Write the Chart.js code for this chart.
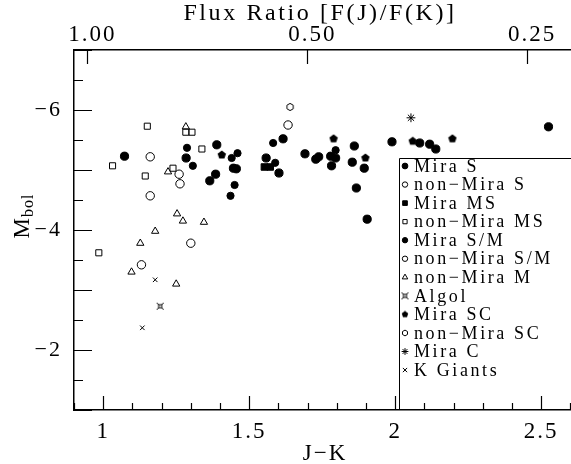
<!DOCTYPE html>
<html>
<head>
<meta charset="utf-8">
<script src="https://cdn.jsdelivr.net/npm/chart.js@4.4.1/dist/chart.umd.min.js"></script>
<style>
html, body { margin: 0; padding: 0; background: #fff; overflow: hidden; }
canvas { display: block; }
</style>
</head>
<body>
<canvas id="chart" width="576" height="464"></canvas>
<script>
// J-K colour and bolometric magnitude, one pair per class
const miraS_jk = [1.073, 1.284, 1.389, 1.446, 1.456, 1.385, 1.365, 1.558, 1.616, 1.602, 1.691, 1.728, 1.738, 1.779, 1.796, 1.782, 1.860, 1.853, 1.894, 1.867, 1.904, 1.989, 2.084, 2.118, 2.139, 2.525];
const miraS_m = [-5.23, -5.20, -5.42, -5.03, -5.02, -4.93, -4.82, -5.20, -5.52, -4.95, -5.27, -5.18, -5.22, -5.23, -5.20, -5.07, -5.40, -5.13, -5.03, -4.70, -4.18, -5.47, -5.45, -5.43, -5.35, -5.72];

const nonMiraS_jk = [1.161, 1.161, 1.633, 1.131];
const nonMiraS_m = [-5.22, -4.57, -5.75, -3.42];

const miraMS_jk = [1.552, 1.572];
const miraMS_m = [-5.05, -5.05];

const nonMiraMS_jk = [1.151, 1.032, 1.144, 1.239, 1.283, 1.304, 1.338, 0.985];
const nonMiraMS_m = [-5.73, -5.07, -4.90, -5.03, -5.63, -5.63, -5.35, -3.62];

const miraSM_jk = [1.287, 1.307, 1.440, 1.460, 1.450, 1.436, 1.582, 1.589, 1.796];
const miraSM_m = [-5.37, -5.07, -5.20, -5.28, -4.75, -4.57, -5.45, -5.12, -5.33];

const nonMiraSM_jk = [1.260, 1.263, 1.300];
const nonMiraSM_m = [-4.93, -4.77, -3.78];

const nonMiraM_jk = [1.283, 1.222, 1.253, 1.273, 1.345, 1.178, 1.127, 1.097, 1.250];
const nonMiraM_m = [-5.72, -4.97, -4.27, -4.15, -4.13, -3.98, -3.78, -3.30, -3.10];

const algol_jk = [1.195];
const algol_m = [-2.73];

const miraSC_jk = [1.406, 1.789, 1.898, 2.060, 2.196];
const miraSC_m = [-5.25, -5.52, -5.20, -5.48, -5.52];

const nonMiraSC_jk = [1.640];
const nonMiraSC_m = [-6.05];

const miraC_jk = [2.054];
const miraC_m = [-5.87];

const kGiants_jk = [1.178, 1.134];
const kGiants_m = [-3.17, -2.37];

// axis ticks
const xLabels = [1, 1.5, 2, 2.5];
const yLabels = [-6, -4, -2];
const fluxLabels = ['1.00', '0.50', '0.25'];
const fluxTickJK = [0.946, 1.699, 2.452];

const FONT = 'Liberation Serif';

const pts = (xs, ys) => xs.map((x, i) => ({ x: x, y: ys[i] }));

// little canvases for the symbols Chart.js has no built-in style for
function makeSymbol(size, draw) {
  const c = document.createElement('canvas');
  c.width = size; c.height = size;
  const g = c.getContext('2d');
  g.translate(size / 2, size / 2);
  g.strokeStyle = '#000'; g.fillStyle = '#000'; g.lineWidth = 1;
  draw(g);
  return c;
}
function polygon(g, n, r) {
  g.beginPath();
  for (let i = 0; i < n; i++) {
    const t = -Math.PI / 2 + i * 2 * Math.PI / n;
    g.lineTo(r * Math.cos(t), r * Math.sin(t));
  }
  g.closePath();
}
const pentFilled = makeSymbol(10, g => { polygon(g, 5, 4.4); g.fill(); });
const pentSmall = makeSymbol(8, g => { polygon(g, 5, 3.4); g.fill(); });
const hexOpen = makeSymbol(10, g => { polygon(g, 6, 3.6); g.stroke(); });
const hexSmall = makeSymbol(8, g => { polygon(g, 6, 2.9); g.stroke(); });
const algolSym = makeSymbol(9, g => {
  g.strokeRect(-1.5, -1.5, 3, 3);
  g.beginPath();
  [[-1, -1], [1, -1], [1, 1], [-1, 1]].forEach(([sx, sy]) => {
    g.moveTo(sx * 1.5, sy * 1.5); g.lineTo(sx * 3.5, sy * 3.5);
  });
  g.stroke();
});

function ds(label, xs, ys, style, r, filled, legendStyle, legendR) {
  return {
    label: label,
    data: pts(xs, ys),
    pointStyle: style,
    pointRadius: r,
    pointBorderWidth: 1,
    pointBorderColor: '#000',
    pointBackgroundColor: filled ? '#000' : 'rgba(0,0,0,0)',
    legendStyle: legendStyle || style,
    legendR: legendR
  };
}

const datasets = [
  ds('Mira S', miraS_jk, miraS_m, 'circle', 4.1, true, null, 2.9),
  ds('non\u2212Mira S', nonMiraS_jk, nonMiraS_m, 'circle', 4.2, false, null, 2.7),
  ds('Mira MS', miraMS_jk, miraMS_m, 'rect', 4.6, true, null, 3.3),
  ds('non\u2212Mira MS', nonMiraMS_jk, nonMiraMS_m, 'rect', 4.3, false, null, 3),
  ds('Mira S/M', miraSM_jk, miraSM_m, 'circle', 3.6, true, null, 2.7),
  ds('non\u2212Mira S/M', nonMiraSM_jk, nonMiraSM_m, 'circle', 4.2, false, null, 2.7),
  ds('non\u2212Mira M', nonMiraM_jk, nonMiraM_m, 'triangle', 4.2, false, null, 3.2),
  ds('Algol', algol_jk, algol_m, algolSym, 4, false, algolSym, 4),
  ds('Mira SC', miraSC_jk, miraSC_m, pentFilled, 4, true, pentSmall, 3),
  ds('non\u2212Mira SC', nonMiraSC_jk, nonMiraSC_m, hexOpen, 4, false, hexSmall, 3),
  ds('Mira C', miraC_jk, miraC_m, 'star', 4.4, false, null, 3.4),
  ds('K Giants', kGiants_jk, kGiants_m, 'crossRot', 3.2, false, null, 3)
];

const spacing = {
  id: 'spacing',
  beforeDraw(chart) { chart.ctx.letterSpacing = '2px'; }
};

const frame = {
  id: 'frame',
  afterDraw(chart) {
    const { ctx, chartArea: a, scales } = chart;
    ctx.save();
    ctx.strokeStyle = '#000';
    ctx.lineWidth = 1.2;
    ctx.beginPath();
    // inward ticks on J-K axis
    for (let i = 9; i <= 26; i++) {
      const v = i / 10;
      const x = Math.round(scales.x.getPixelForValue(v)) + 0.5;
      const len = xLabels.includes(v) ? 14 : 7;
      ctx.moveTo(x, a.bottom); ctx.lineTo(x, a.bottom - len);
    }
    // inward ticks on flux ratio axis
    fluxTickJK.forEach(v => {
      const x = Math.round(scales.x2.getPixelForValue(v)) + 0.5;
      ctx.moveTo(x, a.top); ctx.lineTo(x, a.top + 14);
    });
    // inward ticks on M_bol axis
    for (let i = -14; i <= -2; i++) {
      const v = i / 2;
      const y = Math.round(scales.y.getPixelForValue(v)) + 0.5;
      const len = Number.isInteger(v) ? 18 : 9;
      ctx.moveTo(a.left, y); ctx.lineTo(a.left + len, y);
    }
    ctx.stroke();

    // legend box
    const lx = 399.5, ly = 158.5;
    ctx.lineWidth = 1;
    ctx.beginPath();
    ctx.moveTo(chart.width + 5, ly); ctx.lineTo(lx, ly); ctx.lineTo(lx, a.bottom);
    ctx.stroke();
    ctx.letterSpacing = '2.6px';
    ctx.font = '18px "' + FONT + '"';
    ctx.textAlign = 'left';
    ctx.textBaseline = 'middle';
    chart.data.datasets.forEach((d, i) => {
      const y = 166 + i * 18.55;
      ctx.fillStyle = d.pointBackgroundColor;
      ctx.strokeStyle = '#000';
      Chart.helpers.drawPoint(ctx, { pointStyle: d.legendStyle, radius: d.legendR, borderWidth: 1, rotation: 0 }, 405, y);
      ctx.fillStyle = '#000';
      ctx.fillText(d.label, 414, y + 1);
    });

    // axis titles
    ctx.letterSpacing = '2.6px';
    ctx.font = '24px "' + FONT + '"';
    ctx.textAlign = 'center';
    ctx.textBaseline = 'alphabetic';
    ctx.fillText('Flux Ratio [F(J)/F(K)]', 320, 20);
    ctx.letterSpacing = '2px';
    ctx.font = '23px "' + FONT + '"';
    ctx.fillText('J\u2212K', 325, 460);

    ctx.translate(29, 216);
    ctx.rotate(-Math.PI / 2);
    ctx.textAlign = 'left';
    ctx.letterSpacing = '1px';
    const wM = ctx.measureText('M').width;
    ctx.font = '16px "' + FONT + '"';
    const wB = ctx.measureText('bol').width;
    const x0 = -(wM + wB) / 2;
    ctx.font = '23px "' + FONT + '"';
    ctx.fillText('M', x0, 0);
    ctx.font = '16px "' + FONT + '"';
    ctx.fillText('bol', x0 + wM, 4);
    ctx.restore();
  }
};

const tickFont = { family: FONT, size: 23 };

new Chart(document.getElementById('chart'), {
  type: 'scatter',
  data: { datasets: datasets },
  options: {
    responsive: false,
    animation: false,
    layout: { padding: { left: 0, right: 1, top: 0, bottom: 0 } },
    plugins: { legend: { display: false }, tooltip: { enabled: false } },
    scales: {
      x: {
        type: 'linear', position: 'bottom', min: 0.9, max: 2.6,
        grid: { display: false, drawTicks: false },
        border: { display: true, color: '#000', width: 1.5 },
        afterBuildTicks: s => { s.ticks = xLabels.map(v => ({ value: v })); },
        afterFit: s => { s.height = 54; s.paddingLeft = 0; s.paddingRight = 0; },
        ticks: { font: tickFont, color: '#000', padding: 8, maxRotation: 0, autoSkip: false, callback: v => String(v) }
      },
      x2: {
        type: 'linear', position: 'top', min: 0.9, max: 2.6,
        grid: { display: false, drawTicks: false },
        border: { display: true, color: '#000', width: 1.5 },
        afterBuildTicks: s => { s.ticks = fluxTickJK.map(v => ({ value: v })); },
        afterFit: s => { s.height = 50; s.paddingLeft = 0; s.paddingRight = 0; },
        ticks: { font: tickFont, color: '#000', padding: 1, maxRotation: 0, autoSkip: false, labelOffset: 5,
          callback: (v, i) => fluxLabels[i] }
      },
      y: {
        type: 'linear', position: 'left', min: -7, max: -1, reverse: true,
        grid: { display: false, drawTicks: false },
        border: { display: true, color: '#000', width: 1.5 },
        afterBuildTicks: s => { s.ticks = yLabels.map(v => ({ value: v })); },
        afterFit: s => { s.width = 74; s.paddingTop = 0; s.paddingBottom = 0; },
        ticks: { font: { family: FONT, size: 22 }, color: '#000', padding: 12, autoSkip: false, callback: v => '\u2212' + Math.abs(v) }
      }
    }
  },
  plugins: [spacing, frame]
});
</script>
</body>
</html>
